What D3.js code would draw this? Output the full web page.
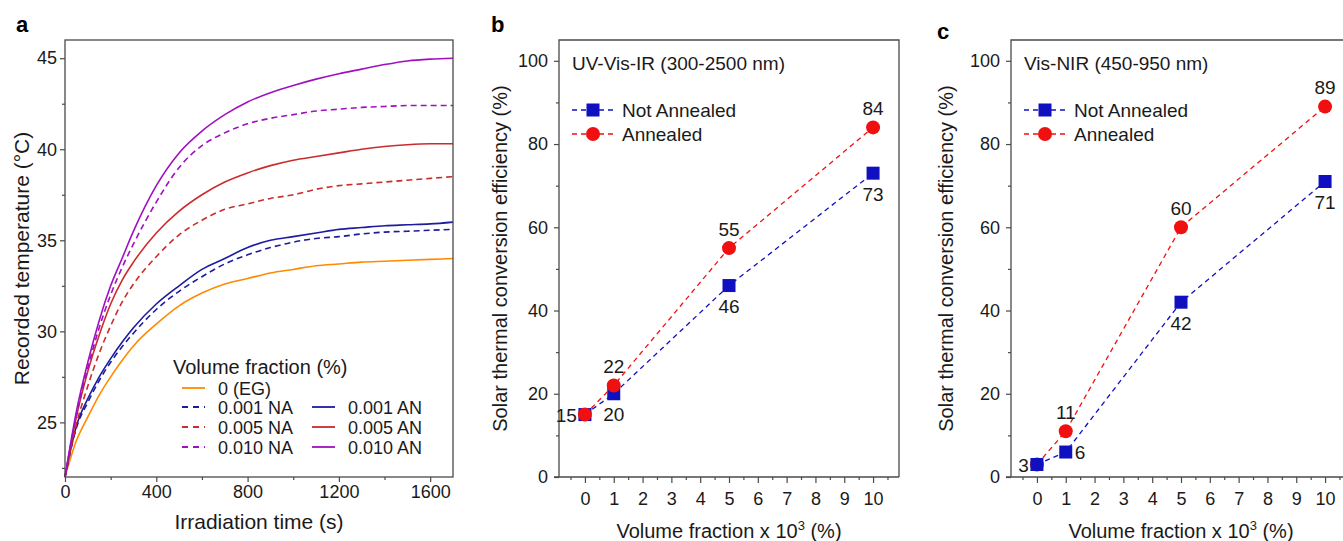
<!DOCTYPE html>
<html><head><meta charset="utf-8">
<script src="https://cdn.jsdelivr.net/npm/d3@7"></script>
<style>
html,body{margin:0;padding:0;background:#fff;}
svg{display:block;font-family:"Liberation Sans",Arial,sans-serif;}
</style></head>
<body>
<svg id="chart" width="1343" height="541"></svg>
<script>
// ---------- Panel a data ----------
const timeS = [0,50,100,150,200,250,300,400,500,600,700,800,900,1000,1100,1200,1300,1400,1500,1600,1700];
const tempEG    = [22.0,24.0,25.3,26.5,27.5,28.4,29.2,30.4,31.4,32.1,32.6,32.9,33.2,33.4,33.6,33.7,33.8,33.85,33.9,33.95,34.0];
const temp001NA = [22.0,24.7,26.1,27.3,28.3,29.15,29.9,31.2,32.2,33.0,33.7,34.2,34.6,34.9,35.1,35.2,35.35,35.45,35.5,35.55,35.6];
const temp001AN = [22.0,24.8,26.3,27.5,28.5,29.4,30.2,31.5,32.5,33.4,34.0,34.6,35.0,35.2,35.4,35.6,35.7,35.8,35.85,35.9,36.0];
const temp005NA = [22.0,24.9,27.0,28.8,30.3,31.6,32.6,34.1,35.3,36.1,36.7,37.0,37.3,37.5,37.8,38.0,38.1,38.2,38.3,38.4,38.5];
const temp005AN = [22.0,25.3,27.8,29.8,31.5,32.8,33.8,35.4,36.6,37.5,38.2,38.7,39.1,39.4,39.6,39.8,40.0,40.15,40.25,40.3,40.3];
const temp010NA = [22.0,25.4,28.0,30.2,32.0,33.5,34.8,37.1,39.0,40.2,40.9,41.4,41.7,41.9,42.1,42.2,42.3,42.35,42.4,42.4,42.4];
const temp010AN = [22.0,25.6,28.3,30.6,32.5,34.0,35.5,38.0,39.8,41.0,41.9,42.6,43.1,43.5,43.85,44.15,44.4,44.65,44.85,44.95,45.0];
const seriesNamesA = ["0 (EG)","0.001 NA","0.001 AN","0.005 NA","0.005 AN","0.010 NA","0.010 AN"];
const timeTicks = [0,400,800,1200,1600];
const tempTicks = [25,30,35,40,45];

// ---------- Panels b, c data ----------
const volFrac = [0,1,5,10];
const uvNotAnnealed = [15,20,46,73];
const uvAnnealed    = [15,22,55,84];
const visNotAnnealed = [3,6,42,71];
const visAnnealed    = [3,11,60,89];
const fracTicks = [0,1,2,3,4,5,6,7,8,9,10];
const effTicks = [0,20,40,60,80,100];

const svg = d3.select("#chart");
const AX = "#4a4a4a";
const TXT = "#1a1a1a";

// ---------------- PANEL A ----------------
(function(){
  const L=65,R=453,T=40,B=477;
  const x=d3.scaleLinear().domain([0,1700]).range([L,R]);
  const y=d3.scaleLinear().domain([22,46]).range([B,T]);
  const g=svg.append("g");
  const cols = {eg:"#ff8a00", b:"#1c1ca0", r:"#cc2b2b", p:"#a010c0"};
  const styles = [
    {data:tempEG,c:cols.eg,d:null},
    {data:temp001NA,c:cols.b,d:"6,4"},
    {data:temp001AN,c:cols.b,d:null},
    {data:temp005NA,c:cols.r,d:"6,4"},
    {data:temp005AN,c:cols.r,d:null},
    {data:temp010NA,c:cols.p,d:"6,4"},
    {data:temp010AN,c:cols.p,d:null}
  ];
  const line=d3.line().x((d,i)=>x(timeS[i])).y(d=>y(d)).curve(d3.curveMonotoneX);
  styles.forEach(s=>{
    g.append("path").attr("d",line(s.data)).attr("fill","none")
     .attr("stroke",s.c).attr("stroke-width",1.6)
     .attr("stroke-dasharray",s.d);
  });
  // frame
  g.append("rect").attr("x",L).attr("y",T).attr("width",R-L).attr("height",B-T)
   .attr("fill","none").attr("stroke",AX).attr("stroke-width",1.3);
  g.append("g").attr("transform",`translate(0,${B})`)
    .call(d3.axisBottom(x).tickValues(timeTicks).tickSize(5).tickPadding(3).tickFormat(d3.format("d")));
  g.append("g").attr("transform",`translate(0,${B})`)
    .call(d3.axisBottom(x).tickValues([200,600,1000,1400]).tickSize(3).tickFormat(""));
  g.append("g").attr("transform",`translate(${L},0)`)
    .call(d3.axisLeft(y).tickValues(tempTicks).tickSize(5).tickPadding(3));
  g.append("g").attr("transform",`translate(${L},0)`)
    .call(d3.axisLeft(y).tickValues([22.5,27.5,32.5,37.5,42.5]).tickSize(3).tickFormat(""));
  g.selectAll(".domain").remove();
  g.selectAll(".tick line").attr("stroke",AX).attr("stroke-width",1.2);
  g.selectAll(".tick text").attr("font-size",18).attr("fill",TXT).attr("font-family","Liberation Sans, Arial, sans-serif");
  g.append("text").attr("x",(L+R)/2).attr("y",529).attr("text-anchor","middle")
   .attr("font-size",21).attr("fill",TXT).text("Irradiation time (s)");
  g.append("text").attr("transform",`translate(29,${(T+B)/2}) rotate(-90)`).attr("text-anchor","middle")
   .attr("font-size",21).attr("fill",TXT).text("Recorded temperature (°C)");
  // legend
  g.append("text").attr("x",173).attr("y",374).attr("font-size",20).attr("fill",TXT).text("Volume fraction (%)");
  const leg = [
    {i:0,col:0,row:0},{i:1,col:0,row:1},{i:3,col:0,row:2},{i:5,col:0,row:3},
    {i:2,col:1,row:1},{i:4,col:1,row:2},{i:6,col:1,row:3}
  ];
  const rowY=[388,407,427,447], colX=[182,312];
  leg.forEach(e=>{
    const s=styles[e.i], yy=rowY[e.row], xx=colX[e.col];
    g.append("line").attr("x1",xx).attr("x2",xx+23).attr("y1",yy).attr("y2",yy)
      .attr("stroke",s.c).attr("stroke-width",1.8).attr("stroke-dasharray",s.d?"6,5":null);
    g.append("text").attr("x",xx+36).attr("y",yy+6.5).attr("font-size",18).attr("fill",TXT).text(seriesNamesA[e.i]);
  });
  svg.append("text").attr("x",16).attr("y",32).attr("font-size",22).attr("font-weight","bold").attr("fill","#000").text("a");
})();

// ---------------- PANELS B, C ----------------
function effPanel(opts){
  const {L,R,T,B,title,na,an,labels,redOnTop,ytx,letter,lx,ly} = opts;
  const x=d3.scaleLinear().domain([-0.9,10.9]).range([L,L+340]);
  const y=d3.scaleLinear().domain([0,105]).range([B,T]);
  const g=svg.append("g");
  const blue="#1010c0", red="#f01010";
  g.append("path").attr("d",`M${L},${B}V${T}H${R}V${B}`).attr("fill","none").attr("stroke",AX).attr("stroke-width",1.3);
  g.append("line").attr("x1",L-5).attr("x2",R).attr("y1",B).attr("y2",B).attr("stroke",AX).attr("stroke-width",1.3);
  g.append("g").attr("transform",`translate(0,${B})`)
    .call(d3.axisBottom(x).tickValues(fracTicks).tickSize(6).tickPadding(9));
  g.append("g").attr("transform",`translate(0,${B})`)
    .call(d3.axisBottom(x).tickValues(d3.range(-0.5,11,1)).tickSize(3).tickFormat(""));
  g.append("g").attr("transform",`translate(${L},0)`)
    .call(d3.axisLeft(y).tickValues(effTicks).tickSize(5).tickPadding(6));
  g.append("g").attr("transform",`translate(${L},0)`)
    .call(d3.axisLeft(y).tickValues([10,30,50,70,90]).tickSize(3).tickFormat(""));
  g.selectAll(".domain").remove();
  g.selectAll(".tick line").attr("stroke",AX).attr("stroke-width",1.2);
  g.selectAll(".tick text").attr("font-size",18).attr("fill",TXT).attr("font-family","Liberation Sans, Arial, sans-serif");

  const line=d3.line().x((d,i)=>x(volFrac[i])).y(d=>y(d));
  const drawSeries=(vals,col,shape)=>{
    g.append("path").attr("d",line(vals)).attr("fill","none").attr("stroke",col)
      .attr("stroke-width",1.3).attr("stroke-dasharray","5,4");
    vals.forEach((v,i)=>{
      if(shape==="sq") g.append("rect").attr("x",x(volFrac[i])-6.5).attr("y",y(v)-6.5).attr("width",13).attr("height",13).attr("fill",col);
      else g.append("circle").attr("cx",x(volFrac[i])).attr("cy",y(v)).attr("r",7).attr("fill",col);
    });
  };
  if(redOnTop){ drawSeries(na,blue,"sq"); drawSeries(an,red,"ci"); }
  else { drawSeries(an,red,"ci"); drawSeries(na,blue,"sq"); }

  const put=(vals,pos)=>{
    vals.forEach((v,i)=>{
      const p=pos[i]; if(!p) return;
      const px=x(volFrac[i]), py=y(v);
      let tx=px, ty=py, anchor="middle";
      if(p==="above"){ ty=py-19+6.5; }
      else if(p==="below"){ ty=py+21+6.5; }
      else if(p==="left"){ tx=px-8; ty=py+7; anchor="end"; }
      else if(p==="right"){ tx=px+9; ty=py+7; anchor="start"; }
      g.append("text").attr("x",tx).attr("y",ty).attr("text-anchor",anchor)
        .attr("font-size",19).attr("fill",TXT).text(v);
    });
  };
  put(na,labels.na); put(an,labels.an);

  g.append("text").attr("x",L+13).attr("y",70).attr("font-size",19).attr("fill",TXT).text(title);
  const ly1=110, ly2=134, lx0=L+13;
  [[ly1,blue,"sq","Not Annealed"],[ly2,red,"ci","Annealed"]].forEach(([yy,col,sh,txt])=>{
    g.append("line").attr("x1",lx0).attr("x2",lx0+44).attr("y1",yy).attr("y2",yy)
      .attr("stroke",col).attr("stroke-width",1.3).attr("stroke-dasharray","5,4");
    if(sh==="sq") g.append("rect").attr("x",lx0+21-6.5).attr("y",yy-6.5).attr("width",13).attr("height",13).attr("fill",col);
    else g.append("circle").attr("cx",lx0+21).attr("cy",yy).attr("r",7).attr("fill",col);
    g.append("text").attr("x",lx0+50).attr("y",yy+7).attr("font-size",19).attr("fill",TXT).text(txt);
  });
  const xt=g.append("text").attr("x",L+170).attr("y",538).attr("text-anchor","middle").attr("font-size",20).attr("fill",TXT);
  xt.append("tspan").text("Volume fraction x 10");
  xt.append("tspan").attr("font-size",13).attr("dy",-8).text("3");
  xt.append("tspan").attr("dy",8).text(" (%)");
  g.append("text").attr("transform",`translate(${ytx},${(T+B)/2}) rotate(-90)`).attr("text-anchor","middle")
   .attr("font-size",20).attr("fill",TXT).text("Solar thermal conversion efficiency (%)");
  svg.append("text").attr("x",lx).attr("y",ly).attr("font-size",22).attr("font-weight","bold").attr("fill","#000").text(letter);
}

effPanel({L:559,R:899,T:40,B:477,title:"UV-Vis-IR (300-2500 nm)",na:uvNotAnnealed,an:uvAnnealed,
  labels:{na:["left","below","below","below"],an:[null,"above","above","above"]},redOnTop:true,ytx:507,letter:"b",lx:491,ly:32});
effPanel({L:1011,R:1351,T:40,B:477,title:"Vis-NIR (450-950 nm)",na:visNotAnnealed,an:visAnnealed,
  labels:{na:["left","right","below","below"],an:[null,"above","above","above"]},redOnTop:false,ytx:953,letter:"c",lx:937,ly:39});
</script>
</body></html>
